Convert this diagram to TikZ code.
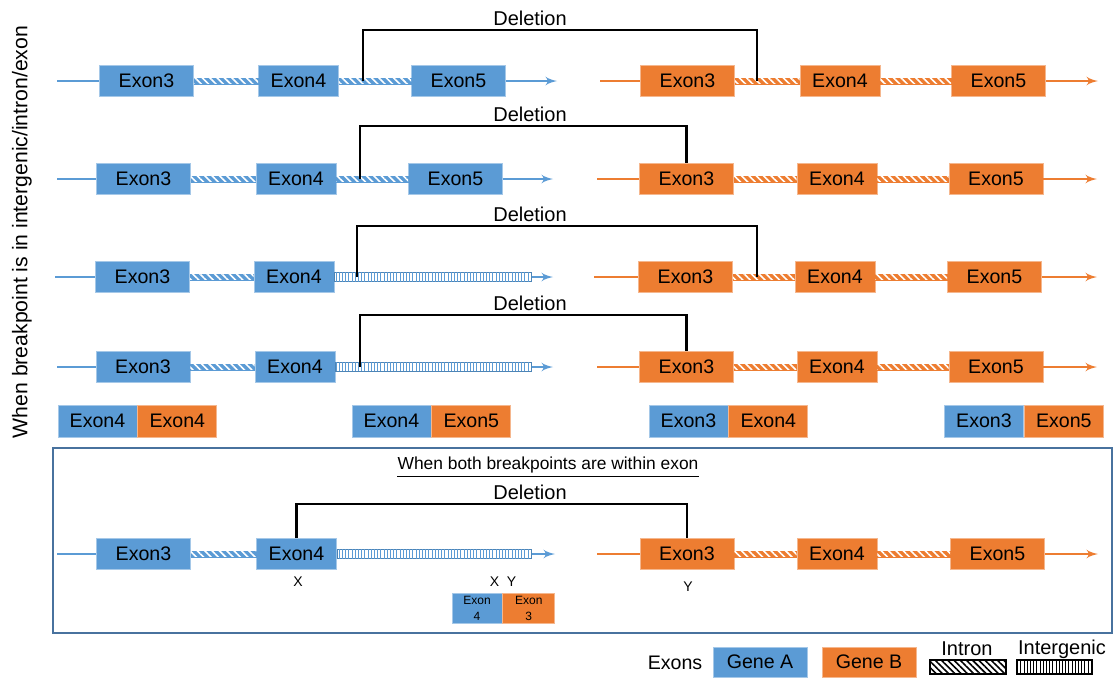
\documentclass[tikz,border=0pt]{standalone}
\usepackage{fontspec}
\setmainfont{Liberation Sans}
\usetikzlibrary{arrows,positioning,patterns.meta}
\definecolor{geneA}{RGB}{91,155,213}
\definecolor{geneB}{RGB}{237,125,49}
\definecolor{frameblue}{RGB}{72,114,158}

\begin{document}
\begin{tikzpicture}
			[x=0.5pt,y=-0.5pt,every node/.style={font=\fontsize{9.8}{11}\selectfont,inner sep=0pt},
			exa/.style={rectangle,fill=geneA,draw=geneA!55!white,line width=0.4pt,minimum height=15.5pt},
			exb/.style={rectangle,fill=geneB,draw=geneB!55!white,line width=0.4pt,minimum height=15.5pt},
			w3/.style={minimum width=47pt}, w4/.style={minimum width=40pt},
			fus/.style={minimum width=39.5pt,minimum height=16pt},
			bbone/.style={draw=#1,line width=1pt},
			edge/.style={->,> = latex'},
			intron/.style={fill=#1,draw=#1,line width=0.3pt,postaction={pattern={Lines[angle=-45,distance=2.6pt,line width=0.8pt]},pattern color=white}},
			inter/.style={fill=white,draw=geneA!85!black,line width=0.4pt,postaction={pattern={Lines[angle=90,distance=1.6pt,line width=0.35pt]},pattern color=geneA}},
			bracket/.style={line width=1.3pt},
			del/.style={anchor=south,inner sep=2pt,font=\fontsize{10}{11}\selectfont},
			small/.style={font=\fontsize{7}{8}\selectfont}]
			\useasboundingbox (0,0) rectangle (1115,677);
			
			\node[rotate=90,font=\fontsize{10.6}{12}\selectfont] (side) at (22,232) {When breakpoint is in intergenic/intron/exon};
			
			% row 1
			\node[exa,w3] (a13) at (146.5,81) {Exon3};
			\node[exa,w4] (a14) at (298.5,81) {Exon4};
			\node[exa,w3] (a15) at (458.5,81) {Exon5};
			\node[exb,w3] (b13) at (687.5,81) {Exon3};
			\node[exb,w4] (b14) at (840,81) {Exon4};
			\node[exb,w3] (b15) at (998.5,81) {Exon5};
			\coordinate (s1a) at (57,81);
			\coordinate (e1a) at (557,81);
			\coordinate (s1b) at (600,81);
			\coordinate (e1b) at (1098,81);
			\draw[bbone=geneA] (s1a) -- (a13);
			\draw[bbone=geneA,edge] (a15) -- (e1a);
			\draw[bbone=geneB] (s1b) -- (b13);
			\draw[bbone=geneB,edge] (b15) -- (e1b);
			\path[intron=geneA] ([yshift=1.4pt]a13.east) rectangle ([yshift=-1.4pt]a14.west);
			\path[intron=geneA] ([yshift=1.4pt]a14.east) rectangle ([yshift=-1.4pt]a15.west);
			\path[intron=geneB] ([yshift=1.4pt]b13.east) rectangle ([yshift=-1.4pt]b14.west);
			\path[intron=geneB] ([yshift=1.4pt]b14.east) rectangle ([yshift=-1.4pt]b15.west);
			\node[del] (d1) at (530,30) {Deletion};
			\coordinate (p1) at (363,81);
			\coordinate (q1) at (757,81);
			\draw[bracket] (p1) |- (d1.south) -| (q1);
			
			% row 2
			\node[exa,w3] (a23) at (143.5,179) {Exon3};
			\node[exa,w4] (a24) at (296,179) {Exon4};
			\node[exa,w3] (a25) at (455.5,179) {Exon5};
			\node[exb,w3] (b23) at (686.5,179) {Exon3};
			\node[exb,w4] (b24) at (837,179) {Exon4};
			\node[exb,w3] (b25) at (996,179) {Exon5};
			\coordinate (s2a) at (57,179);
			\coordinate (e2a) at (553,179);
			\coordinate (s2b) at (597,179);
			\coordinate (e2b) at (1097,179);
			\draw[bbone=geneA] (s2a) -- (a23);
			\draw[bbone=geneA,edge] (a25) -- (e2a);
			\draw[bbone=geneB] (s2b) -- (b23);
			\draw[bbone=geneB,edge] (b25) -- (e2b);
			\path[intron=geneA] ([yshift=1.4pt]a23.east) rectangle ([yshift=-1.4pt]a24.west);
			\path[intron=geneA] ([yshift=1.4pt]a24.east) rectangle ([yshift=-1.4pt]a25.west);
			\path[intron=geneB] ([yshift=1.4pt]b23.east) rectangle ([yshift=-1.4pt]b24.west);
			\path[intron=geneB] ([yshift=1.4pt]b24.east) rectangle ([yshift=-1.4pt]b25.west);
			\node[del] (d2) at (530,126) {Deletion};
			\coordinate (p2) at (360,179);
			\draw[bracket] (p2) |- (d2.south) -| (b23.north);
			
			% row 3
			\node[exa,w3] (a33) at (142.5,277) {Exon3};
			\node[exa,w4] (a34) at (294,277) {Exon4};
			\node[exb,w3] (b33) at (685.5,277) {Exon3};
			\node[exb,w4] (b34) at (835,277) {Exon4};
			\node[exb,w3] (b35) at (994.5,277) {Exon5};
			\coordinate (s3a) at (55,277);
			\coordinate (g3) at (531,277);
			\coordinate (e3a) at (553,277);
			\coordinate (s3b) at (594,277);
			\coordinate (e3b) at (1097,277);
			\draw[bbone=geneA] (s3a) -- (a33);
			\draw[bbone=geneA,edge] (g3) -- (e3a);
			\draw[bbone=geneB] (s3b) -- (b33);
			\draw[bbone=geneB,edge] (b35) -- (e3b);
			\path[intron=geneA] ([yshift=1.4pt]a33.east) rectangle ([yshift=-1.4pt]a34.west);
			\path[inter] ([yshift=2.1pt]a34.east) rectangle ([yshift=-2.1pt]g3);
			\path[intron=geneB] ([yshift=1.4pt]b33.east) rectangle ([yshift=-1.4pt]b34.west);
			\path[intron=geneB] ([yshift=1.4pt]b34.east) rectangle ([yshift=-1.4pt]b35.west);
			\node[del] (d3) at (530,226) {Deletion};
			\coordinate (p3) at (357,277);
			\coordinate (q3) at (757,277);
			\draw[bracket] (p3) |- (d3.south) -| (q3);
			
			% row 4
			\node[exa,w3] (a43) at (143,367) {Exon3};
			\node[exa,w4] (a44) at (295,367) {Exon4};
			\node[exb,w3] (b43) at (686.5,367) {Exon3};
			\node[exb,w4] (b44) at (837,367) {Exon4};
			\node[exb,w3] (b45) at (996,367) {Exon5};
			\coordinate (s4a) at (57,367);
			\coordinate (g4) at (531,367);
			\coordinate (e4a) at (553,367);
			\coordinate (s4b) at (597,367);
			\coordinate (e4b) at (1097,367);
			\draw[bbone=geneA] (s4a) -- (a43);
			\draw[bbone=geneA,edge] (g4) -- (e4a);
			\draw[bbone=geneB] (s4b) -- (b43);
			\draw[bbone=geneB,edge] (b45) -- (e4b);
			\path[intron=geneA] ([yshift=1.4pt]a43.east) rectangle ([yshift=-1.4pt]a44.west);
			\path[inter] ([yshift=2.1pt]a44.east) rectangle ([yshift=-2.1pt]g4);
			\path[intron=geneB] ([yshift=1.4pt]b43.east) rectangle ([yshift=-1.4pt]b44.west);
			\path[intron=geneB] ([yshift=1.4pt]b44.east) rectangle ([yshift=-1.4pt]b45.west);
			\node[del] (d4) at (530,315) {Deletion};
			\coordinate (p4) at (360,367);
			\draw[bracket] (p4) |- (d4.south) -| (b43.north);
			
			% fusion products
			\node[exa,fus] (f1a) at (97.5,421) {Exon4};
			\node[exb,fus,right=0pt of f1a] (f1b) {Exon4};
			\node[exa,fus] (f2a) at (391.5,421) {Exon4};
			\node[exb,fus,right=0pt of f2a] (f2b) {Exon5};
			\node[exa,fus] (f3a) at (688.5,421) {Exon3};
			\node[exb,fus,right=0pt of f3a] (f3b) {Exon4};
			\node[exa,fus] (f4a) at (984,421) {Exon3};
			\node[exb,fus,right=0pt of f4a] (f4b) {Exon5};
			
			% within exon
			\draw[frameblue,line width=0.8pt] (53,448) rectangle (1112,633);
			\node[font=\fontsize{8.7}{10}\selectfont] (ttl) at (548,465) {When both breakpoints are within exon};
			\draw[line width=0.4pt] ([yshift=-1.5pt]ttl.south west) -- ([yshift=-1.5pt]ttl.south east);
			\node[exa,w3] (a53) at (143.5,554) {Exon3};
			\node[exa,w4] (a54) at (296.5,554) {Exon4};
			\node[exb,w3] (b53) at (687,554) {Exon3};
			\node[exb,w4] (b54) at (837,554) {Exon4};
			\node[exb,w3] (b55) at (997.5,554) {Exon5};
			\coordinate (s5a) at (57,554);
			\coordinate (g5) at (531,554);
			\coordinate (e5a) at (555,554);
			\coordinate (s5b) at (597,554);
			\coordinate (e5b) at (1098,554);
			\draw[bbone=geneA] (s5a) -- (a53);
			\draw[bbone=geneA,edge] (g5) -- (e5a);
			\draw[bbone=geneB] (s5b) -- (b53);
			\draw[bbone=geneB,edge] (b55) -- (e5b);
			\path[intron=geneA] ([yshift=1.4pt]a53.east) rectangle ([yshift=-1.4pt]a54.west);
			\path[inter] ([yshift=2.1pt]a54.east) rectangle ([yshift=-2.1pt]g5);
			\path[intron=geneB] ([yshift=1.4pt]b53.east) rectangle ([yshift=-1.4pt]b54.west);
			\path[intron=geneB] ([yshift=1.4pt]b54.east) rectangle ([yshift=-1.4pt]b55.west);
			\node[del] (d5) at (530,504) {Deletion};
			\draw[bracket] (a54.north) |- (d5.south) -| (b53.north);
			\node[small] (x1) at (298,582) {X};
			\node[small] (xy) at (503,582) {X\ \ Y};
			\node[small] (y1) at (688,587) {Y};
			\node[exa,minimum width=25pt,minimum height=15pt,align=center,font=\fontsize{6}{8}\selectfont] (sa) at (477,608) {Exon\\4};
			\node[exb,minimum width=26pt,minimum height=15pt,align=center,font=\fontsize{6}{8}\selectfont,right=0pt of sa] (sb) {Exon\\3};
			
			% legend
			\node (lex) at (675,663) {Exons};
			\node[exa,w3,minimum height=15pt] (lga) at (760,662) {Gene A};
			\node[exb,w3,minimum height=15pt] (lgb) at (869,662) {Gene B};
			\node[draw,line width=0.6pt,minimum width=38pt,minimum height=7pt,pattern={Lines[angle=-45,distance=2.2pt,line width=0.8pt]}] (lin) at (968,667) {};
			\node[draw,line width=0.6pt,minimum width=37.5pt,minimum height=7pt,pattern={Lines[angle=90,distance=1.6pt,line width=0.4pt]}] (lig) at (1054.5,667) {};
			\node[font=\fontsize{10}{11}\selectfont] (tin) at (967,649) {Intron};
			\node[font=\fontsize{10}{11}\selectfont] (tig) at (1062,649) {Intergenic};
			\end{tikzpicture}
\end{document}
